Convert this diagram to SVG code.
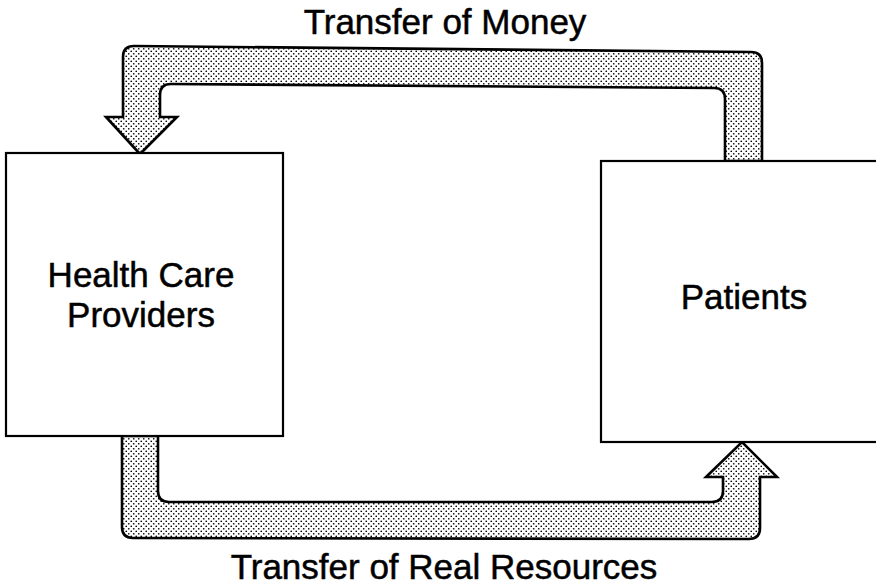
<svg xmlns="http://www.w3.org/2000/svg" width="876" height="587" viewBox="0 0 876 587">
<style>
.box{fill:#fff;stroke:#000;stroke-width:2.2}
.flow{fill:url(#dots);stroke:#000;stroke-width:2.6;stroke-linejoin:miter}
text{font-family:"Liberation Sans",Arial,sans-serif;font-size:35px;fill:#000;stroke:#000;stroke-width:0.5;text-anchor:middle}
</style>
<defs>
<pattern id="dots" width="5" height="5" patternUnits="userSpaceOnUse">
<rect width="5" height="5" fill="#fff"/>
<circle cx="1.25" cy="1.25" r="0.85" fill="#000"/>
<circle cx="3.75" cy="3.75" r="0.85" fill="#000"/>
</pattern>
</defs>
<g id="connectors">
<path id="money" class="flow" d="M725 161 L725 99 Q725 88 714 88 L171 84 Q160 84 160 95 L160 117 L177 117 L140 154 L106 117 L123 117 L123 57 Q123 46 134 46 L751 52 Q762 52 762 63 L762 161 Z"/>
<path id="resources" class="flow" d="M122 436 L122 527 Q122 538 133 538 L749 539 Q760 539 760 528 L760 477 L777 477 L742 442 L706 477 L723 477 L723 491 Q723 502 712 502 L169 502 Q158 502 158 491 L158 436 Z"/>
</g>
<g id="providers">
<rect class="box" x="6" y="153" width="277" height="283"/>
<text x="141" y="287">Health Care</text>
<text x="141" y="327">Providers</text>
</g>
<g id="patients">
<rect class="box" x="601" y="161" width="280" height="281"/>
<text x="744" y="309">Patients</text>
</g>
<g id="labels">
<text x="445" y="34">Transfer of Money</text>
<text x="444" y="579">Transfer of Real Resources</text>
</g>
</svg>
